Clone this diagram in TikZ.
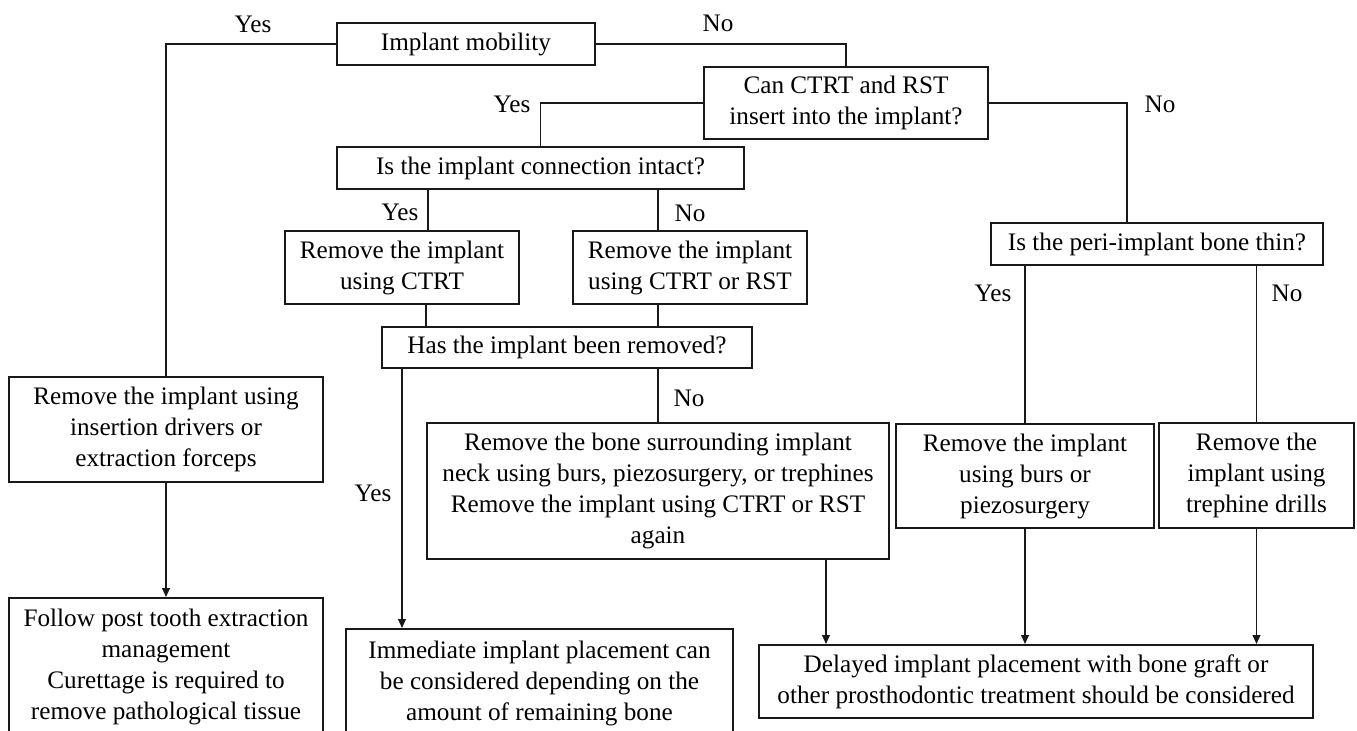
\documentclass[tikz,border=0pt]{standalone}
\usepackage{fontspec}
\setmainfont{Liberation Serif}
\usetikzlibrary{arrows.meta,calc}
\begin{document}
\begin{tikzpicture}[x=0.5pt,y=-0.5pt,
  every node/.style={font=\fontsize{12.6pt}{15.5pt}\selectfont},
  box/.style={draw=black!90, line width=0.9pt, inner sep=0pt, align=center, rectangle},
  lbl/.style={inner sep=0pt, anchor=center},
  conn/.style={draw=black!90, line width=0.9pt},
  arr/.style={conn, -{Triangle[length=4.5pt,width=3.8pt]}}]
\fill[white] (0,0) rectangle (1357,731);
\useasboundingbox (0,0) rectangle (1357,731);

% boxes (minimum sizes in pt = px/2)
\node[box, minimum width=129pt, minimum height=21pt]   (A) at (466,44)    {Implant mobility};
\node[box, minimum width=142pt, minimum height=36pt]   (B) at (846,103)   {Can CTRT and RST\\insert into the implant?};
\node[box, minimum width=203.5pt, minimum height=21pt] (C) at (540.5,168) {Is the implant connection intact?};
\node[box, minimum width=117pt, minimum height=36.5pt] (D) at (402,267.5) {Remove the implant\\using CTRT};
\node[box, minimum width=117pt, minimum height=36.5pt] (E) at (690,267.5) {Remove the implant\\using CTRT or RST};
\node[box, minimum width=185pt, minimum height=20.5pt] (F) at (567,347.5) {Has the implant been removed?};
\node[box, minimum width=157pt, minimum height=52.5pt] (G) at (166,429.5) {Remove the implant using\\insertion drivers or\\extraction forceps};
\node[box, minimum width=231pt, minimum height=68pt]   (H) at (658,491)   {Remove the bone surrounding implant\\neck using burs, piezosurgery, or trephines\\Remove the implant using CTRT or RST\\again};
\node[box, minimum width=166pt, minimum height=21pt]   (I) at (1157,244)  {Is the peri-implant bone thin?};
\node[box, minimum width=129pt, minimum height=52pt]   (J) at (1025,476)  {Remove the implant\\using burs or\\piezosurgery};
\node[box, minimum width=97.5pt, minimum height=52.5pt] (K) at (1256.5,475.5) {Remove the\\implant using\\trephine drills};
\node[box, minimum width=157pt, minimum height=68.5pt] (L) at (166,666.5) {Follow post tooth extraction\\management\\Curettage is required to\\remove pathological tissue};
\node[box, minimum width=193.5pt, minimum height=54pt] (M) at (539.5,683) {Immediate implant placement can\\be considered depending on the\\amount of remaining bone};
\node[box, minimum width=277pt, minimum height=36.5pt] (N) at (1036,681.5) {Delayed implant placement with bone graft or\\other prosthodontic treatment should be considered};

% labels
\node[lbl] (y1) at (253,24)  {Yes};
\node[lbl] (n1) at (718,23)  {No};
\node[lbl] (y2) at (512,104) {Yes};
\node[lbl] (n2) at (1160,104) {No};
\node[lbl] (y3) at (400,212) {Yes};
\node[lbl] (n3) at (690,213) {No};
\node[lbl] (y4) at (373,493) {Yes};
\node[lbl] (n4) at (689,398) {No};
\node[lbl] (y5) at (993,293) {Yes};
\node[lbl] (n5) at (1287,293) {No};

% helper coordinates on box edges
\coordinate (bI) at ([xshift=-15pt]I.north);
\coordinate (cD) at ([xshift=13pt]D.north);
\coordinate (cE) at ([xshift=-16pt]E.north);
\coordinate (dF) at ([xshift=12pt]D.south);
\coordinate (fM) at ([xshift=-82.5pt]F.south);
\coordinate (hN) at ([xshift=84pt]H.south);

% connectors
\draw[conn] (A.west) -| (G.north);
\draw[conn] (A.east) -| (B.north);
\draw[conn] (B.west) -| (C.north);
\draw[conn] (B.east) -| (bI);
\draw[conn] (cD |- C.south) -- (cD);
\draw[conn] (cE |- C.south) -- (cE);
\draw[conn] (dF) -- (dF |- F.north);
\draw[conn] (cE |- E.south) -- (cE |- F.north);
\draw[arr]  (fM) -- (fM |- M.north);
\draw[conn] (F.south -| H.north) -- (H.north);
\draw[arr]  (hN) -- (hN |- N.north);
\draw[conn] (I.south -| J.north) -- (J.north);
\draw[conn] (I.south -| K.north) -- (K.north);
\draw[arr]  (J.south) -- (J.south |- N.north);
\draw[arr]  (K.south) -- (K.south |- N.north);
\draw[arr]  (G.south) -- (L.north);
\end{tikzpicture}
\end{document}
